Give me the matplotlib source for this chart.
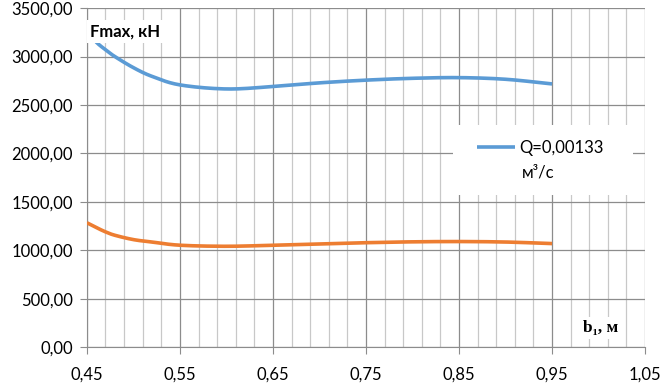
import numpy as np
import matplotlib.pyplot as plt
from matplotlib.patches import Rectangle
from matplotlib.ticker import FixedLocator, FuncFormatter

# b1, m
b1 = [0.45, 0.46, 0.47, 0.48, 0.50, 0.52, 0.55, 0.60, 0.65, 0.70, 0.75, 0.80, 0.85, 0.90, 0.95]
# Q = 0,00133 m3/s
f_blue = [3270, 3150, 3070, 3000, 2885, 2795, 2707, 2665, 2690, 2728, 2756, 2775, 2782, 2765, 2717]
f_orange = [1284, 1235, 1190, 1155, 1110, 1085, 1052, 1041, 1052, 1066, 1078, 1087, 1090, 1085, 1069]
x_ticks = [0.45, 0.55, 0.65, 0.75, 0.85, 0.95, 1.05]

plt.rcParams['font.family'] = ['Lato', 'DejaVu Sans']


def smooth(x, y, n=20):
    # catmull-rom style curve through the points (like excel smoothed line)
    x = np.asarray(x, float)
    y = np.asarray(y, float)
    px = np.concatenate([[2 * x[0] - x[1]], x, [2 * x[-1] - x[-2]]])
    py = np.concatenate([[2 * y[0] - y[1]], y, [2 * y[-1] - y[-2]]])
    ox, oy = [], []
    t = np.linspace(0, 1, n, endpoint=False)
    for i in range(1, len(px) - 2):
        for arr, out in ((px, ox), (py, oy)):
            p0, p1, p2, p3 = arr[i - 1], arr[i], arr[i + 1], arr[i + 2]
            out.extend(0.5 * (2 * p1 + (-p0 + p2) * t + (2 * p0 - 5 * p1 + 4 * p2 - p3) * t ** 2
                              + (-p0 + 3 * p1 - 3 * p2 + p3) * t ** 3))
    ox.append(x[-1])
    oy.append(y[-1])
    return ox, oy


fig = plt.figure(figsize=(6.63, 3.84), dpi=100)
ax = fig.add_axes([0.131, 0.096, 0.842, 0.883])

sx, sy = smooth(b1, f_blue)
ax.plot(sx, sy, color='#5b9bd5', lw=2.6, label='Q=0,00133', zorder=3,
        solid_capstyle='butt')
sx, sy = smooth(b1, f_orange)
ax.plot(sx, sy, color='#ed7d31', lw=2.6, zorder=3, solid_capstyle='butt')

ax.set_xlim(0.45, 1.05)
ax.set_ylim(0, 3500)
ax.xaxis.set_major_locator(FixedLocator(x_ticks))
ax.xaxis.set_minor_locator(FixedLocator(np.arange(0.45, 1.051, 0.02)))
ax.yaxis.set_major_locator(FixedLocator(np.arange(0, 3501, 500)))
ax.xaxis.set_major_formatter(FuncFormatter(lambda v, p: f'{v:.2f}'.replace('.', ',')))
ax.yaxis.set_major_formatter(FuncFormatter(lambda v, p: f'{v:.2f}'.replace('.', ',')))

ax.grid(which='major', color='#8c8c8c', lw=0.9)
ax.grid(which='minor', axis='x', color='#c8c8c8', lw=0.9)
ax.tick_params(which='major', length=5, color='#8c8c8c', labelsize=12, pad=5)
ax.tick_params(which='minor', length=0)
ax.tick_params(axis='x', pad=9)
for s in ['top', 'right']:
    ax.spines[s].set_visible(False)
for s in ['left', 'bottom']:
    ax.spines[s].set_color('#8c8c8c')

ax.text(0.4535, 3260, 'Fmax, кН', fontsize=12, fontweight='bold', va='center', ha='left',
        bbox=dict(facecolor='white', edgecolor='none', pad=2.5), zorder=5)
ax.text(0.9835, 200, 'b₁, м', fontsize=12.5, fontweight='bold', family='Liberation Serif',
        va='center', ha='left', bbox=dict(facecolor='white', edgecolor='none', pad=2), zorder=5)

# legend area (white box, entry text wraps onto second line)
ax.add_patch(Rectangle((0.656, 0.448), 0.322, 0.207, transform=ax.transAxes,
                       facecolor='white', edgecolor='none', zorder=4))
leg = ax.legend(loc='center left', bbox_to_anchor=(0.8694, 2056),
                bbox_transform=ax.transData, frameon=False, fontsize=12,
                handlelength=2.3, handletextpad=0.25, borderpad=0, borderaxespad=0)
leg.set_zorder(6)
ax.text(0.9175, 1800, 'м³/с', fontsize=12, va='center', ha='left', zorder=6)

fig.savefig('out.png', dpi=100)
